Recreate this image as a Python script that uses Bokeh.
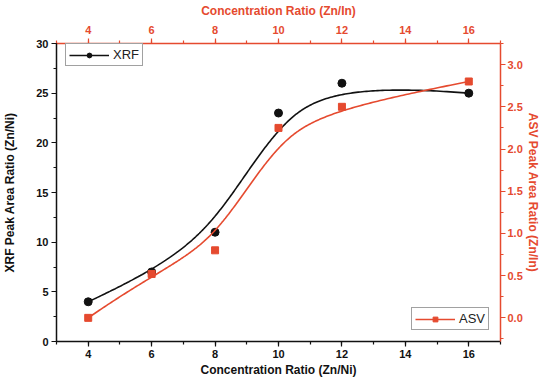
import numpy as np
from bokeh.plotting import figure
from bokeh.models import (Range1d, LinearAxis, SingleIntervalTicker, PrintfTickFormatter,
                          Legend, LegendItem)
from bokeh.embed import file_html
from bokeh.resources import INLINE

# ---- data ----
conc = [4, 6, 8, 10, 12, 16]
xrf = [4, 7, 11, 23, 26, 25]
asv = [0.0, 0.52, 0.8, 2.25, 2.5, 2.8]

RED = "#e54a2f"
FONT = "Liberation Sans"


def bspline(px, py, n=300, k=3):
    px = np.asarray(px, float)
    py = np.asarray(py, float)
    m = len(px)
    knots = np.concatenate([np.zeros(k), np.linspace(0, 1, m - k + 1), np.ones(k)])
    ts = np.linspace(0, 1 - 1e-9, n)

    def N(i, d, t):
        if d == 0:
            return np.where((knots[i] <= t) & (t < knots[i + 1]), 1.0, 0.0)
        out = np.zeros_like(t)
        den1 = knots[i + d] - knots[i]
        den2 = knots[i + d + 1] - knots[i + 1]
        if den1 > 0:
            out += (t - knots[i]) / den1 * N(i, d - 1, t)
        if den2 > 0:
            out += (knots[i + d + 1] - t) / den2 * N(i + 1, d - 1, t)
        return out

    bx = np.zeros(n)
    by = np.zeros(n)
    for i in range(m):
        b = N(i, k, ts)
        bx += b * px[i]
        by += b * py[i]
    return np.append(bx, px[-1]), np.append(by, py[-1])


FW, FH = 444, 298
p = figure(frame_width=FW, frame_height=FH, output_backend="svg", toolbar_location=None,
           x_range=Range1d(3, 17), y_range=Range1d(0, 30),
           min_border_left=0, min_border_right=0, min_border_top=0, min_border_bottom=0)
p.extra_y_ranges = {"asv": Range1d(-0.28, 3.25)}
p.xgrid.visible = False
p.ygrid.visible = False
p.outline_line_color = None
p.background_fill_color = "white"
p.border_fill_color = "white"


def style(ax, color, label, lab_so, title_so):
    ax.axis_label = label
    ax.axis_label_text_font = FONT
    ax.axis_label_text_font_style = "bold"
    ax.axis_label_text_font_size = "12px"
    ax.axis_label_text_color = color
    ax.axis_label_standoff = title_so
    ax.major_label_text_font = FONT
    ax.major_label_text_font_style = "bold"
    ax.major_label_text_font_size = "11px"
    ax.major_label_text_color = color
    ax.major_label_standoff = lab_so
    ax.axis_line_color = color
    ax.axis_line_width = 1.5
    ax.major_tick_line_color = color
    ax.minor_tick_line_color = color
    ax.major_tick_line_width = 1.2
    ax.minor_tick_line_width = 1.2
    ax.major_tick_out = 5
    ax.major_tick_in = 0
    ax.minor_tick_out = 3
    ax.minor_tick_in = 0


# bottom axis
bx = p.xaxis[0]
bx.ticker = SingleIntervalTicker(interval=2, num_minor_ticks=2)
style(bx, "#111111", "Concentration Ratio (Zn/Ni)", 3, 2)
# left axis
ly = p.yaxis[0]
ly.ticker = SingleIntervalTicker(interval=5, num_minor_ticks=2)
style(ly, "#111111", "XRF Peak Area Ratio (Zn/Ni)", 3, 16)

# top axis
tx = LinearAxis(ticker=SingleIntervalTicker(interval=2, num_minor_ticks=2))
style(tx, RED, "Concentration Ratio (Zn/In)", 5, 5)
p.add_layout(tx, "above")
# right axis
ry = LinearAxis(y_range_name="asv", ticker=SingleIntervalTicker(interval=0.5, num_minor_ticks=2),
                formatter=PrintfTickFormatter(format="%.1f"))
style(ry, RED, "ASV Peak Area Ratio (Zn/In)", 2, 0)
p.add_layout(ry, "right")

# curves
sx, sy = bspline(conc, xrf)
ax_, ay_ = bspline(conc, asv)
l1 = p.line(sx, sy, line_color="#111111", line_width=1.6)
m1 = p.scatter(conc, xrf, marker="circle", size=8, fill_color="#111111", line_color="#111111")
l2 = p.line(ax_, ay_, line_color=RED, line_width=1.6, y_range_name="asv")
m2 = p.scatter(conc, asv, marker="square", size=7, fill_color=RED, line_color=RED, y_range_name="asv")


def mk_legend(label, rends, loc):
    lg = Legend(items=[LegendItem(label=label, renderers=rends)], location=loc,
                glyph_width=40, glyph_height=12, label_standoff=4, padding=3, spacing=0,
                margin=0, border_line_color="#444444", border_line_width=1,
                label_text_font=FONT, label_text_font_size="13px", label_text_color="#222222",
                background_fill_alpha=1.0)
    return lg


p.add_layout(mk_legend("XRF", [l1, m1], (9, FH - 5 - 18)), "center")
p.add_layout(mk_legend("ASV", [l2, m2], (FW - 6 - 83, 11)), "center")

open("out.html", "w").write(file_html(p, INLINE))
